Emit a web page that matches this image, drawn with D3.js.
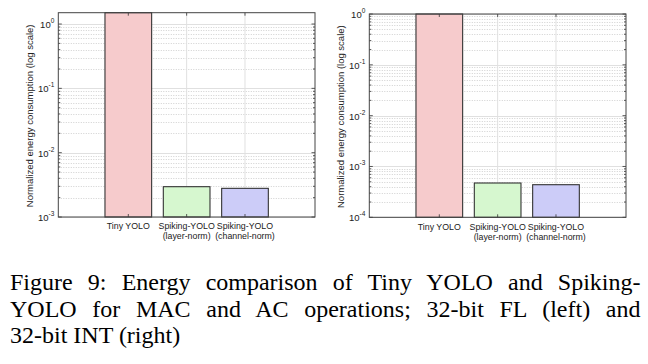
<!DOCTYPE html>
<html>
<head>
<meta charset="utf-8">
<script src="https://cdn.jsdelivr.net/npm/d3@7"></script>
<style>
  body { margin: 0; background: #fff; }
  svg { display: block; }
  .tick-lbl, .axis-lbl, .cat-lbl { font-family: "Liberation Sans", Arial, sans-serif; fill: #222; }
  .caption { font-family: "Liberation Serif", "Times New Roman", serif; fill: #000; }
</style>
</head>
<body>
<svg id="fig" width="648" height="364"></svg>
<script>
// ---- data ----
var categories = [["Tiny YOLO"], ["Spiking-YOLO", "(layer-norm)"], ["Spiking-YOLO", "(channel-norm)"]];
var flValues  = [1.5, 2.96e-3, 2.79e-3];   // 32-bit FL (left)
var intValues = [1, 4.73e-4, 4.38e-4];     // 32-bit INT (right)
var flExps  = [-3, -2, -1, 0];
var intExps = [-4, -3, -2, -1, 0];
var barColors = ["#f6cbcc", "#d6f7cf", "#ccccf8"];
var yTitle = "Normalized energy consumption (log scale)";
var captionLines = [
  "Figure 9: Energy comparison of Tiny YOLO and Spiking-",
  "YOLO for MAC and AC operations; 32-bit FL (left) and",
  "32-bit INT (right)"
];

var svg = d3.select("#fig");

function panel(o) {
  var g = svg.append("g");
  var x = d3.scaleBand().domain(d3.range(categories.length))
      .range([o.left, o.right]).paddingInner(0.2).paddingOuter(0.8);
  var y = d3.scaleLog().domain(o.domain).range([o.bottom, o.top]);

  // minor grid (dotted)
  var minors = [];
  for (var e = o.exps[0]; e <= o.exps[o.exps.length - 1]; e++) {
    for (var m = 2; m <= 9; m++) {
      var v = m * Math.pow(10, e);
      if (v < o.domain[1]) minors.push(v);
    }
  }
  g.selectAll(".minor").data(minors).enter().append("line")
    .attr("x1", o.left).attr("x2", o.right)
    .attr("y1", function(d) { return Math.round(y(d)) + 0.5; })
    .attr("y2", function(d) { return Math.round(y(d)) + 0.5; })
    .attr("stroke", "#c4c4c4").attr("stroke-width", 0.8).attr("stroke-dasharray", "1,1.5");

  // major grid
  var majors = o.exps.map(function(e) { return Math.pow(10, e); });
  g.selectAll(".major").data(majors).enter().append("line")
    .attr("x1", o.left).attr("x2", o.right)
    .attr("y1", function(d) { return Math.round(y(d)) + 0.5; })
    .attr("y2", function(d) { return Math.round(y(d)) + 0.5; })
    .attr("stroke", "#e0e0e0").attr("stroke-width", 1);
  g.selectAll(".vgrid").data(d3.range(categories.length)).enter().append("line")
    .attr("x1", function(i) { return x(i) + x.bandwidth() / 2; })
    .attr("x2", function(i) { return x(i) + x.bandwidth() / 2; })
    .attr("y1", o.top).attr("y2", o.bottom)
    .attr("stroke", "#e0e0e0").attr("stroke-width", 1);

  // bars
  g.selectAll(".bar").data(o.values).enter().append("rect")
    .attr("x", function(d, i) { return x(i); })
    .attr("width", x.bandwidth())
    .attr("y", function(d) { return Math.max(o.top, y(d)); })
    .attr("height", function(d) { return o.bottom - Math.max(o.top, y(d)); })
    .attr("fill", function(d, i) { return barColors[i]; })
    .attr("stroke", "#333").attr("stroke-width", 1.1);

  // ticks on all sides (inside)
  var tk = g.append("g").attr("stroke", "#333").attr("stroke-width", 0.8);
  majors.forEach(function(v) {
    var yy = y(v);
    tk.append("line").attr("x1", o.left).attr("x2", o.left + 3.5).attr("y1", yy).attr("y2", yy);
    tk.append("line").attr("x1", o.right).attr("x2", o.right - 3.5).attr("y1", yy).attr("y2", yy);
  });
  minors.forEach(function(v) {
    var yy = y(v);
    tk.append("line").attr("x1", o.left).attr("x2", o.left + 2).attr("y1", yy).attr("y2", yy);
    tk.append("line").attr("x1", o.right).attr("x2", o.right - 2).attr("y1", yy).attr("y2", yy);
  });
  d3.range(categories.length).forEach(function(i) {
    var xx = x(i) + x.bandwidth() / 2;
    tk.append("line").attr("x1", xx).attr("x2", xx).attr("y1", o.bottom).attr("y2", o.bottom - 3);
    tk.append("line").attr("x1", xx).attr("x2", xx).attr("y1", o.top).attr("y2", o.top + 3);
  });

  // box
  g.append("rect").attr("x", o.left).attr("y", o.top)
    .attr("width", o.right - o.left).attr("height", o.bottom - o.top)
    .attr("fill", "none").attr("stroke", "#444").attr("stroke-width", 1);

  // y tick labels 10^e
  o.exps.forEach(function(e) {
    var t = g.append("text").attr("class", "tick-lbl")
      .attr("x", o.left - 4).attr("y", y(Math.pow(10, e)) + 4)
      .attr("text-anchor", "end").style("font-size", "9.5px");
    t.append("tspan").text("10");
    t.append("tspan").attr("dy", -5).style("font-size", "6.5px").text(e);
  });

  // category labels
  categories.forEach(function(lines, i) {
    var t = g.append("text").attr("class", "cat-lbl")
      .attr("text-anchor", "middle").style("font-size", "8.8px");
    lines.forEach(function(s, k) {
      t.append("tspan").attr("x", x(i) + x.bandwidth() / 2)
        .attr("y", o.bottom + 12.3 + k * 10).text(s);
    });
  });

  // y title
  var cy = (o.top + o.bottom) / 2 + 1;
  g.append("text").attr("class", "axis-lbl")
    .attr("transform", "translate(" + (o.left - 25) + "," + cy + ") rotate(-90)")
    .attr("text-anchor", "middle").style("font-size", "9.5px")
    .text(yTitle);
}

panel({ left: 58.3, right: 315, top: 12.7, bottom: 217, domain: [1e-3, 1.5], exps: flExps, values: flValues });
panel({ left: 369.3, right: 626, top: 14, bottom: 217.3, domain: [1e-4, 1], exps: intExps, values: intValues });

// caption, justified lines
var capX0 = 10, capX1 = 640.5;
captionLines.forEach(function(s, i) {
  var t = svg.append("text").attr("class", "caption")
    .attr("x", capX0).attr("y", 290 + i * 26.5)
    .style("font-size", "24px").text(s);
  if (i < captionLines.length - 1) {
    var w = t.node().getComputedTextLength();
    var gaps = s.split(" ").length - 1;
    t.attr("word-spacing", ((capX1 - capX0 - w) / gaps).toFixed(2));
  }
});
</script>
</body>
</html>
